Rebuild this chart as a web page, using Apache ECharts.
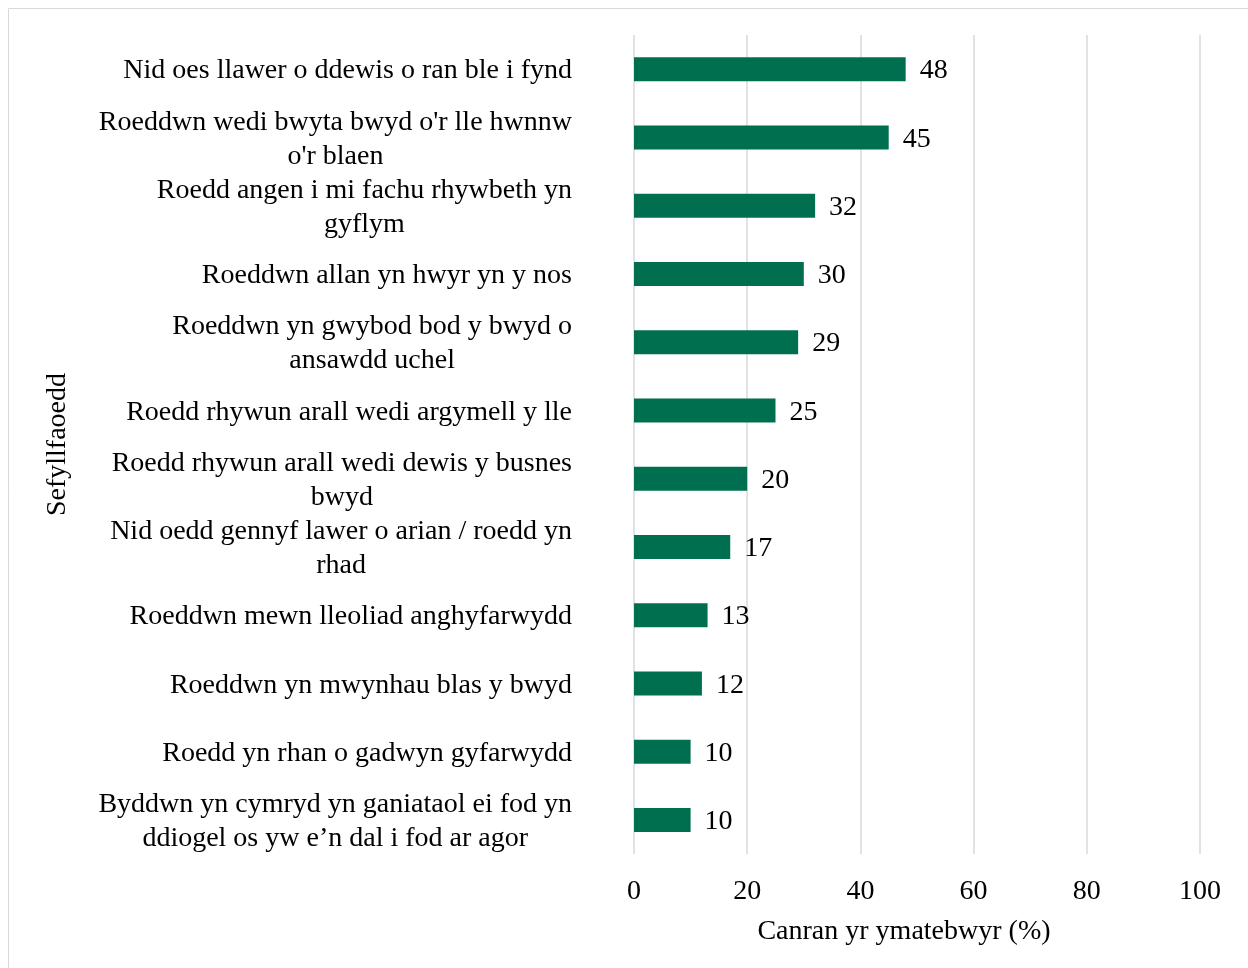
<!DOCTYPE html>
<html>
<head>
<meta charset="utf-8">
<script src="https://cdn.jsdelivr.net/npm/echarts@6/dist/echarts.min.js"></script>
<style>
  html, body { margin: 0; padding: 0; background: #fff; }
  #chart { width: 1248px; height: 968px; }
</style>
</head>
<body>
<div id="chart"></div>
<script>
// categories top to bottom
const categories = [
    'Nid oes llawer o ddewis o ran ble i fynd',
    "Roeddwn wedi bwyta bwyd o'r lle hwnnw\no'r blaen",
    'Roedd angen i mi fachu rhywbeth yn\ngyflym',
    'Roeddwn allan yn hwyr yn y nos',
    'Roeddwn yn gwybod bod y bwyd o\nansawdd uchel',
    'Roedd rhywun arall wedi argymell y lle',
    'Roedd rhywun arall wedi dewis y busnes\nbwyd',
    'Nid oedd gennyf lawer o arian / roedd yn\nrhad',
    'Roeddwn mewn lleoliad anghyfarwydd',
    'Roeddwn yn mwynhau blas y bwyd',
    'Roedd yn rhan o gadwyn gyfarwydd',
    'Byddwn yn cymryd yn ganiataol ei fod yn\nddiogel os yw e’n dal i fod ar agor'
]
const values = [48, 45, 32, 30, 29, 25, 20, 17, 13, 12, 10, 10]
const xTicks = [0, 20, 40, 60, 80, 100]

const font = '"Liberation Serif", "Times New Roman", serif'
const fs = 28
const chart = echarts.init(document.getElementById('chart'))

chart.setOption({
    backgroundColor: '#fff',
    animation: false,
    textStyle: { fontFamily: font },
    graphic: [{
        type: 'rect',
        shape: { x: 8.5, y: 8.5, width: 1300, height: 1000 },
        style: { fill: 'none', stroke: '#d9d9d9', lineWidth: 1 }
    }],
    grid: { left: 634, right: 48, top: 35, bottom: 114 },
    xAxis: {
        type: 'value',
        min: xTicks[0],
        max: xTicks[xTicks.length - 1],
        interval: 20,
        name: 'Canran yr ymatebwyr (%)',
        nameLocation: 'middle',
        nameGap: 64,
        nameTextStyle: { fontSize: fs, color: '#000', fontFamily: font, padding: [0, 26, 0, 0] },
        axisLine: { show: false },
        axisTick: { show: false },
        axisLabel: { fontSize: fs, color: '#000', margin: 24, fontFamily: font },
        splitLine: { lineStyle: { color: '#d9d9d9', width: 1.5 } }
    },
    yAxis: {
        type: 'category',
        inverse: true,
        data: categories,
        name: 'Sefyllfaoedd',
        nameLocation: 'middle',
        nameGap: 562,
        nameTextStyle: { fontSize: fs, color: '#000', fontFamily: font },
        axisLine: { show: false },
        axisTick: { show: false },
        axisLabel: {
            margin: 62,
            padding: [4, 0, 0, 0],
            formatter: v => v.split('\n').map(s => '{c|' + s + '}').join('\n'),
            rich: {
                c: { align: 'center', fontSize: fs, lineHeight: 34, color: '#000', fontFamily: font }
            }
        }
    },
    series: [{
        type: 'bar',
        data: values,
        barWidth: 24,
        itemStyle: { color: '#006f50' },
        label: {
            show: true,
            position: 'right',
            distance: 14,
            offset: [0, 2],
            fontSize: fs,
            color: '#000',
            fontFamily: font
        }
    }]
})
</script>
</body>
</html>
